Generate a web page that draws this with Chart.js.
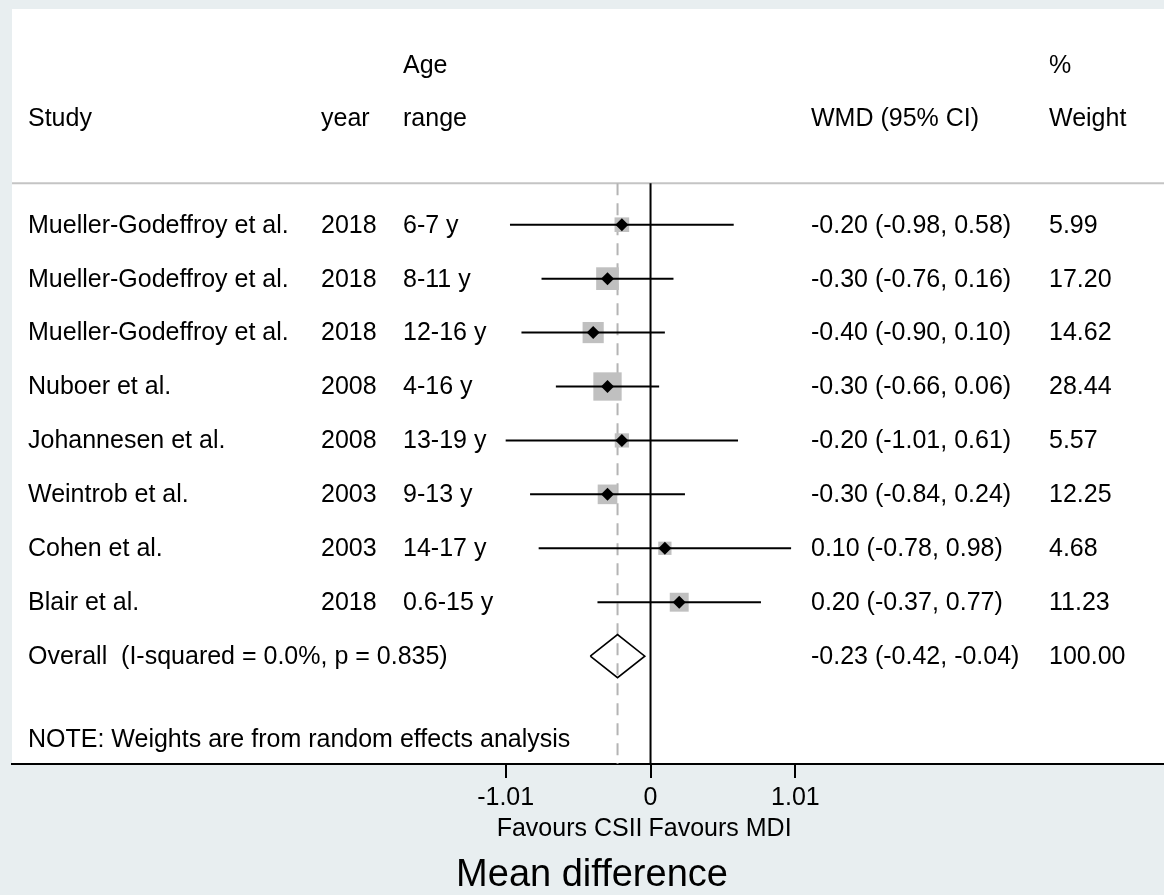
<!DOCTYPE html>
<html lang="en">
<head>
    <meta charset="UTF-8">
    <title>Forest plot - CSII vs MDI</title>
    <script src="https://cdn.jsdelivr.net/npm/chart.js"></script>
    <style>
        html, body { margin: 0; padding: 0; background: #e8eef0; }
        .chart-container { width: 1164px; height: 895px; position: relative; }
    </style>
</head>
<body>
    <div class="chart-container">
        <canvas id="forestChart"></canvas>
    </div>

    <script>
        // Study data
        const studies = ['Mueller-Godeffroy et al.', 'Mueller-Godeffroy et al.', 'Mueller-Godeffroy et al.',
            'Nuboer et al.', 'Johannesen et al.', 'Weintrob et al.', 'Cohen et al.', 'Blair et al.'];
        const years = ['2018', '2018', '2018', '2008', '2008', '2003', '2003', '2018'];
        const ageRanges = ['6-7 y', '8-11 y', '12-16 y', '4-16 y', '13-19 y', '9-13 y', '14-17 y', '0.6-15 y'];
        const wmd = [-0.20, -0.30, -0.40, -0.30, -0.20, -0.30, 0.10, 0.20];
        const lower = [-0.98, -0.76, -0.90, -0.66, -1.01, -0.84, -0.78, -0.37];
        const upper = [0.58, 0.16, 0.10, 0.06, 0.61, 0.24, 0.98, 0.77];
        const weights = [5.99, 17.20, 14.62, 28.44, 5.57, 12.25, 4.68, 11.23];

        // Pooled estimate
        const overallLabel = 'Overall  (I-squared = 0.0%, p = 0.835)';
        const overallEst = [-0.23];
        const overallCI = [-0.42, -0.04];
        const overallWeight = [100.00];

        // x axis ticks
        const tickValues = [-1.01, 0, 1.01];
        const tickLabels = ['-1.01', '0', '1.01'];

        const FONT = '"Liberation Sans", Arial, Helvetica, sans-serif';
        const overallRow = studies.length;
        const diamondHalf = 0.4;   // half height of pooled diamond (row units)
        const headerLineRow = -0.77;
        const bottomRow = 10;

        function fmt(v) { return v.toFixed(2); }

        const datasets = [];

        // small black diamonds at each estimate (on top)
        datasets.push({
            data: wmd.map((v, i) => ({ x: v, y: i })),
            pointStyle: 'rectRot',
            pointRadius: 6.5,
            backgroundColor: '#000',
            borderWidth: 0,
            order: 0
        });

        // pooled diamond
        datasets.push({
            data: [
                { x: overallCI[0], y: overallRow },
                { x: overallEst[0], y: overallRow - diamondHalf },
                { x: overallCI[1], y: overallRow },
                { x: overallEst[0], y: overallRow + diamondHalf },
                { x: overallCI[0], y: overallRow }
            ],
            showLine: true,
            borderColor: '#000',
            borderWidth: 1.6,
            pointRadius: 0,
            fill: false,
            order: 1
        });

        // confidence interval lines
        studies.forEach((s, i) => {
            datasets.push({
                data: [{ x: lower[i], y: i }, { x: upper[i], y: i }],
                showLine: true,
                borderColor: '#000',
                borderWidth: 2,
                pointRadius: 0,
                order: 2
            });
        });

        // grey weight boxes
        datasets.push({
            data: wmd.map((v, i) => ({ x: v, y: i })),
            pointStyle: 'rect',
            pointRadius: ctx => (3 + 4.75 * Math.sqrt(weights[ctx.dataIndex] || 0)) / Math.SQRT2,
            backgroundColor: '#c0c0c0',
            borderWidth: 0,
            order: 3
        });

        // line of no effect
        datasets.push({
            data: [{ x: 0, y: headerLineRow }, { x: 0, y: bottomRow }],
            showLine: true,
            borderColor: '#000',
            borderWidth: 2,
            pointRadius: 0,
            order: 4
        });

        // dashed line at pooled estimate
        datasets.push({
            data: [{ x: overallEst[0], y: headerLineRow }, { x: overallEst[0], y: bottomRow }],
            showLine: true,
            borderColor: '#b4b4b4',
            borderWidth: 2,
            borderDash: [12, 8],
            pointRadius: 0,
            order: 5
        });

        // background + table text
        const forestPlugin = {
            id: 'forestPlugin',
            beforeDraw(chart) {
                const { ctx, chartArea: a } = chart;
                ctx.save();
                ctx.fillStyle = '#e8eef0';
                ctx.fillRect(0, 0, chart.width, chart.height);
                ctx.fillStyle = '#fff';
                ctx.fillRect(a.left, a.top, a.right - a.left, a.bottom - a.top);
                ctx.restore();
            },
            beforeDatasetsDraw(chart) {
                const { ctx, chartArea: a, scales: { y } } = chart;
                const yl = y.getPixelForValue(headerLineRow);
                ctx.save();
                ctx.strokeStyle = '#c4c4c4';
                ctx.lineWidth = 2;
                ctx.beginPath();
                ctx.moveTo(a.left, yl);
                ctx.lineTo(a.right, yl);
                ctx.stroke();
                ctx.restore();
            },
            afterDraw(chart) {
                const { ctx, chartArea: a, scales: { x, y } } = chart;
                const col = { study: 28, year: 321, age: 403, wmd: 811, weight: 1049 };
                ctx.save();
                ctx.fillStyle = '#000';
                ctx.font = '25px ' + FONT;
                ctx.textBaseline = 'middle';
                ctx.textAlign = 'left';

                // header
                const h1 = y.getPixelForValue(-2.94);
                const h2 = y.getPixelForValue(-1.95);
                ctx.fillText('Age', col.age, h1);
                ctx.fillText('%', col.weight, h1);
                ctx.fillText('Study', col.study, h2);
                ctx.fillText('year', col.year, h2);
                ctx.fillText('range', col.age, h2);
                ctx.fillText('WMD (95% CI)', col.wmd, h2);
                ctx.fillText('Weight', col.weight, h2);

                // study rows
                studies.forEach((s, i) => {
                    const py = y.getPixelForValue(i) + 1;
                    ctx.fillText(s, col.study, py);
                    ctx.fillText(years[i], col.year, py);
                    ctx.fillText(ageRanges[i], col.age, py);
                    ctx.fillText(fmt(wmd[i]) + ' (' + fmt(lower[i]) + ', ' + fmt(upper[i]) + ')', col.wmd, py);
                    ctx.fillText(fmt(weights[i]), col.weight, py);
                });

                // overall row
                const po = y.getPixelForValue(overallRow) + 1;
                ctx.fillText(overallLabel, col.study, po);
                ctx.fillText(fmt(overallEst[0]) + ' (' + fmt(overallCI[0]) + ', ' + fmt(overallCI[1]) + ')', col.wmd, po);
                ctx.fillText(fmt(overallWeight[0]), col.weight, po);

                ctx.fillText('NOTE: Weights are from random effects analysis', col.study, y.getPixelForValue(9.55));

                // favours labels under the axis
                const x0 = x.getPixelForValue(0);
                const fy = a.bottom + 65;
                ctx.textAlign = 'right';
                ctx.fillText('Favours CSII', x0 - 8, fy);
                ctx.textAlign = 'left';
                ctx.fillText('Favours MDI', x0 - 2, fy);

                // axis title
                ctx.textAlign = 'center';
                ctx.font = '38px ' + FONT;
                ctx.fillText('Mean difference', (a.left + a.right) / 2 + 4, a.bottom + 111.5);
                ctx.restore();
            }
        };

        const ctx = document.getElementById('forestChart').getContext('2d');
        new Chart(ctx, {
            type: 'scatter',
            data: { datasets: datasets },
            options: {
                responsive: true,
                maintainAspectRatio: false,
                animation: false,
                devicePixelRatio: 1,
                layout: { autoPadding: false, padding: { left: 12, top: 9, right: 0, bottom: 77 } },
                plugins: {
                    legend: { display: false },
                    tooltip: { enabled: false }
                },
                scales: {
                    x: {
                        type: 'linear',
                        position: 'bottom',
                        min: -4.452,
                        max: 3.58,
                        afterBuildTicks: scale => {
                            scale.ticks = tickValues.map(v => ({ value: v }));
                        },
                        ticks: {
                            callback: (value, index) => tickLabels[index],
                            color: '#000',
                            font: { size: 25, family: FONT },
                            padding: 5,
                            maxRotation: 0,
                            autoSkip: false
                        },
                        grid: {
                            drawOnChartArea: false,
                            drawTicks: true,
                            tickLength: 14,
                            color: '#000',
                            lineWidth: 2
                        },
                        border: { display: true, color: '#000', width: 2 }
                    },
                    y: {
                        type: 'linear',
                        min: -4,
                        max: bottomRow,
                        reverse: true,
                        display: false
                    }
                }
            },
            plugins: [forestPlugin]
        });
    </script>
</body>
</html>
